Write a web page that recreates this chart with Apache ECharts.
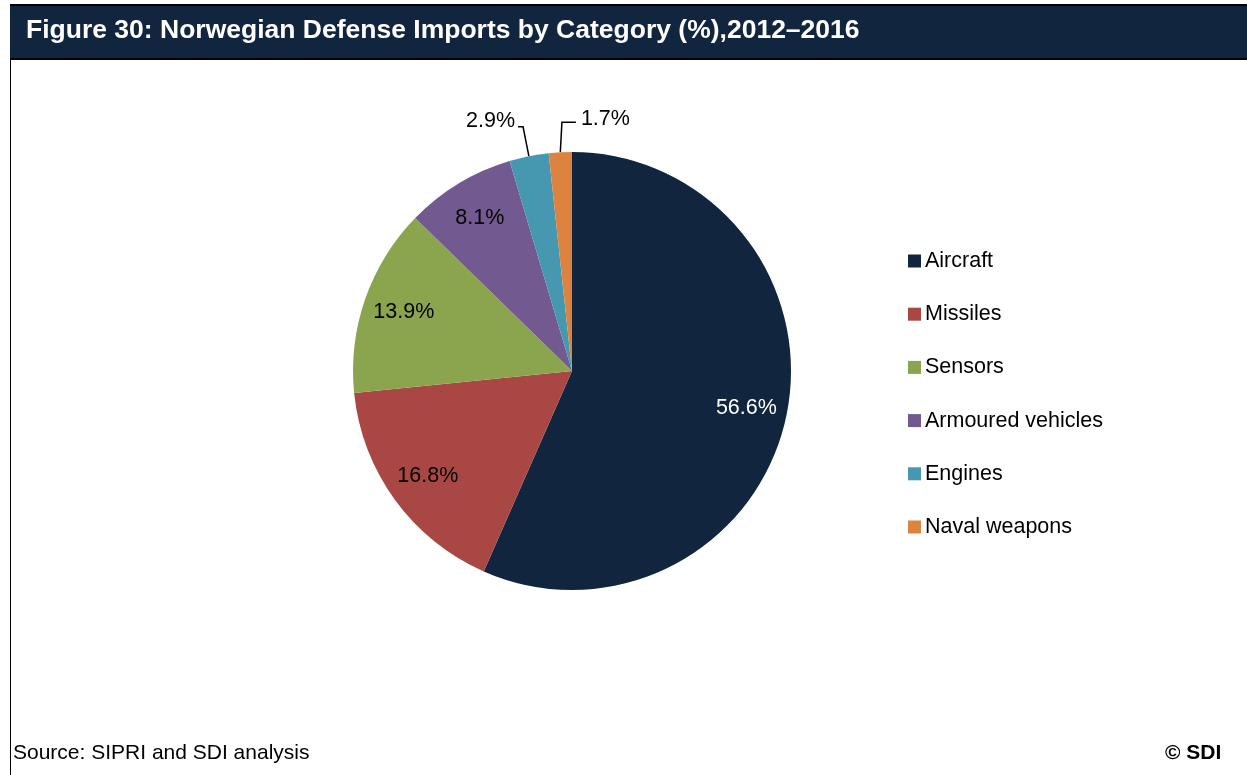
<!DOCTYPE html>
<html>
<head>
<meta charset="utf-8">
<title>Norwegian Defense Imports by Category</title>
<script src="https://cdn.jsdelivr.net/npm/echarts@6/dist/echarts.min.js"></script>
<style>
  html, body { margin: 0; padding: 0; background: #fff; }
  #chart { width: 1247px; height: 775px; }
</style>
</head>
<body>
<div id="chart"></div>
<script>
// Share of Norwegian defense imports by category, 2012–2016 (%)
const categories = ['Aircraft', 'Missiles', 'Sensors', 'Armoured vehicles', 'Engines', 'Naval weapons'];
const shares = [56.6, 16.8, 13.9, 8.1, 2.9, 1.7];
const sliceColors = ['#12253f', '#a94744', '#8ba54f', '#725990', '#4598b0', '#dc843f'];
const labelColors = ['#ffffff', '#000000', '#000000', '#000000', '#000000', '#000000'];

// Slices narrower than this get an outside label with a leader line
const SMALL_SLICE = 5;

const titleText = 'Figure 30: Norwegian Defense Imports by Category (%),2012\u20132016';
const sourceText = 'Source: SIPRI and SDI analysis';
const creditText = '\u00a9 SDI';

const FONT = '"Liberation Sans", Arial, sans-serif';
const CENTER = [572, 371];
const RADIUS = 219;
const LABEL_SIZE = 21.5;

const chart = echarts.init(document.getElementById('chart'), null, { renderer: 'canvas' });

const pctText = v => v.toFixed(1) + '%';

// Main pie: the visible slices plus outside labels for the thin slices
const mainData = categories.map((name, i) => ({
  name,
  value: shares[i],
  itemStyle: { color: sliceColors[i] },
  label: { show: shares[i] < SMALL_SLICE },
  labelLine: { show: shares[i] < SMALL_SLICE }
}));

// Transparent ring carrying the inside labels near the rim
const labelRingData = categories.map((name, i) => ({
  name,
  value: shares[i],
  label: { show: shares[i] >= SMALL_SLICE, color: labelColors[i] }
}));

const option = {
  animation: false,
  backgroundColor: '#ffffff',
  graphic: [
    { type: 'rect', shape: { x: 10, y: 5, width: 1237, height: 55 }, style: { fill: '#12253f' }, z: 0 },
    { type: 'rect', shape: { x: 10, y: 4, width: 1237, height: 2 }, style: { fill: '#000000' }, z: 1 },
    { type: 'rect', shape: { x: 10, y: 58, width: 1237, height: 2 }, style: { fill: '#000000' }, z: 1 },
    { type: 'rect', shape: { x: 10, y: 59, width: 1, height: 716 }, style: { fill: '#000000' }, z: 1 },
    {
      type: 'text', x: 26, y: 31, z: 2,
      style: { text: titleText, fill: '#ffffff', font: 'bold 26.5px ' + FONT, textVerticalAlign: 'middle' }
    },
    {
      type: 'text', x: 13, y: 753, z: 2,
      style: { text: sourceText, fill: '#000000', font: '21px ' + FONT, textVerticalAlign: 'middle' }
    },
    {
      type: 'text', x: 1165, y: 753, z: 2,
      style: { text: creditText, fill: '#000000', font: 'bold 21px ' + FONT, textVerticalAlign: 'middle' }
    }
  ],
  legend: {
    orient: 'vertical',
    left: 908,
    top: 250,
    padding: 0,
    itemWidth: 13,
    itemHeight: 13,
    itemGap: 31.2,
    icon: 'rect',
    data: categories,
    textStyle: { fontFamily: FONT, fontSize: LABEL_SIZE, color: '#000000', lineHeight: 22, padding: [0, 0, 0, -1] }
  },
  series: [
    {
      name: 'Imports',
      type: 'pie',
      center: CENTER,
      radius: RADIUS,
      startAngle: 90,
      clockwise: true,
      avoidLabelOverlap: false,
      silent: true,
      data: mainData,
      label: {
        position: 'outside',
        formatter: p => pctText(p.value),
        fontFamily: FONT,
        fontSize: LABEL_SIZE,
        color: '#000000',
        distanceToLabelLine: 3
      },
      labelLine: {
        length: 30,
        length2: 5,
        lineStyle: { color: '#000000', width: 1.5 }
      },
      // Raise the small-slice labels above their leader lines and keep the
      // thinnest slice's label on the right-hand side
      labelLayout: function (params) {
        const pts = params.labelLinePoints;
        if (!pts) return {};
        if (params.dataIndex !== shares.length - 1) return { dy: -6 };
        const p0 = pts[0];
        const p1 = pts[1];
        const p2 = pts[2];
        const run = 2.8 * Math.abs(p2[0] - p1[0]);
        const elbow = [2 * p0[0] - p1[0], p1[1]];
        const end = [elbow[0] + run, p1[1]];
        return {
          x: end[0] + 5,
          y: end[1] - 3,
          align: 'left',
          verticalAlign: 'middle',
          labelLinePoints: [p0, elbow, end]
        };
      }
    },
    {
      name: 'Imports labels',
      type: 'pie',
      center: CENTER,
      radius: [RADIUS * 0.6, RADIUS],
      startAngle: 90,
      clockwise: true,
      silent: true,
      avoidLabelOverlap: false,
      itemStyle: { color: 'rgba(0,0,0,0)' },
      emphasis: { disabled: true },
      data: labelRingData,
      label: {
        position: 'inside',
        formatter: p => pctText(p.value),
        fontFamily: FONT,
        fontSize: LABEL_SIZE
      },
      labelLine: { show: false }
    }
  ]
};

chart.setOption(option);
</script>
</body>
</html>
